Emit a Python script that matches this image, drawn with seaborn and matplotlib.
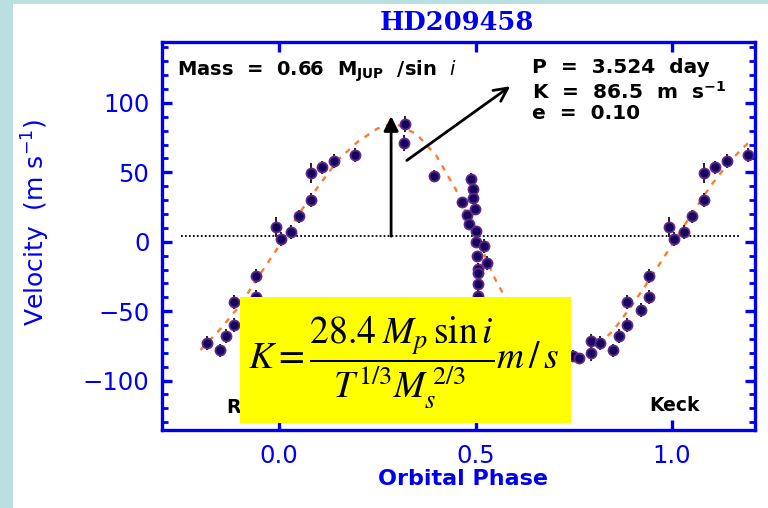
import numpy as np
import pandas as pd
import matplotlib
matplotlib.use("Agg")
import matplotlib.pyplot as plt
from matplotlib.patches import Rectangle
from matplotlib.ticker import MultipleLocator, FixedLocator
import seaborn as sns

# ---- radial-velocity measurements, folded on the orbital period ----
phase = [0.993, 0.006, 0.031, 0.051, 0.082, 0.080, 0.110, 0.140, 0.194,
         0.321, 0.318, 0.394,
         0.489, 0.493, 0.494, 0.499, 0.466, 0.479, 0.484, 0.500, 0.500,
         0.522, 0.503, 0.530, 0.505, 0.507, 0.507, 0.507,
         0.749, 0.762, 0.793, 0.793, 0.816, 0.849, 0.865, 0.885, 0.886,
         0.920, 0.941, 0.941]
velocity = [10.6, 1.9, 7.0, 18.2, 29.8, 49.5, 53.5, 57.9, 62.2,
            84.8, 71.1, 47.6,
            45.2, 38.0, 31.5, 23.6, 28.3, 19.0, 13.0, 7.7, -0.5,
            -2.9, -10.6, -15.3, -19.5, -22.8, -30.4, -39.0,
            -82.1, -83.8, -79.8, -71.8, -73.0, -78.3, -67.7, -59.8, -43.7,
            -49.0, -24.5, -40.0]
error = [7, 5, 5, 5, 5, 7, 5, 5, 5,
         6, 6, 4,
         4, 4, 4, 4, 4, 4, 4, 4, 4,
         5, 4, 5, 4, 4, 4, 4,
         4, 4, 6, 5, 5, 5, 5, 5, 5,
         5, 5, 5]

# ---- orbital fit (P = 3.524 d, K = 86.5 m/s, e = 0.10) ----
fit_phase = [-0.20, -0.15, -0.10, -0.05, 0.00, 0.05, 0.10, 0.15, 0.20, 0.25,
             0.28, 0.30, 0.35, 0.40, 0.45, 0.50, 0.55, 0.60, 0.65, 0.70,
             0.75, 0.80, 0.85, 0.90, 0.95, 1.00, 1.05, 1.10, 1.15, 1.20]
fit_velocity = [-78, -63, -46, -24, -3, 20, 40, 59, 72, 81.5,
                84.5, 84.5, 77.5, 62, 37.5, 5, -27, -53, -69, -79,
                -84, -77.5, -64, -45, -24, -2, 20, 41, 59, 73]

gamma = 4.0          # systemic velocity offset
K_amp = 86.5         # semi-amplitude, m/s
phase_range = (-0.2, 1.2)

xticks = [0.0, 0.5, 1.0]
xticklabels = ["0.0", "0.5", "1.0"]
yticks = [-100, -50, 0, 50, 100]

# repeat the folded points one cycle either side and keep the plotted window
base = pd.DataFrame({"phase": phase, "velocity": velocity, "error": error})
folded = pd.concat([base.assign(phase=base["phase"] + k) for k in (-1, 0, 1)],
                   ignore_index=True)
folded = folded[(folded["phase"] >= phase_range[0]) &
                (folded["phase"] <= phase_range[1])]
fit = pd.DataFrame({"phase": fit_phase, "velocity": fit_velocity})

BLUE = "#0000f0"
W, H = 768, 508
fig = plt.figure(figsize=(W / 100, H / 100), dpi=100, facecolor="white")

# slide background strips
fig.patches.append(Rectangle((0, 0), 13 / W, 1, transform=fig.transFigure,
                             facecolor="#badfe1", edgecolor="none", zorder=0))
fig.patches.append(Rectangle((0, 1 - 4 / H), 1, 4 / H, transform=fig.transFigure,
                             facecolor="#badfe1", edgecolor="none", zorder=0))

ax = fig.add_axes([162 / W, 1 - 430 / H, (755 - 162) / W, (430 - 42) / H])
ax.set_facecolor("white")

# zero-point line
ax.plot([-0.25, 1.17], [gamma, gamma], color="black", lw=1.3,
        linestyle=(0, (1, 1.2)), zorder=1)

# fitted curve
sns.lineplot(data=fit, x="phase", y="velocity", ax=ax, sort=False,
             color="#ff7b2e", lw=1.7, linestyle=(0, (2.4, 2.8)), zorder=2)

# measurements with error bars
ax.errorbar(folded["phase"], folded["velocity"], yerr=folded["error"],
            fmt="none", ecolor="#202020", elinewidth=1.4, capsize=0, zorder=3)
sns.scatterplot(data=folded, x="phase", y="velocity", ax=ax, s=52,
                color="#15005f", edgecolor="#5e2a86", linewidth=1.3, zorder=4)

# amplitude arrow and pointer to the orbital parameters
ax.annotate("", xy=(0.285, gamma + K_amp), xytext=(0.285, gamma),
            arrowprops=dict(arrowstyle="-|>", color="black", lw=2.0,
                            mutation_scale=22, shrinkA=0, shrinkB=0), zorder=5)
ax.annotate("", xy=(0.588, 112), xytext=(0.325, 58.6),
            arrowprops=dict(arrowstyle="->", color="black", lw=2.0,
                            mutation_scale=24, shrinkA=0, shrinkB=0), zorder=5)

ax.set_xlim(-0.298, 1.211)
ax.set_ylim(-135.6, 143.9)
ax.set_xlabel("")
ax.set_ylabel("")

for s in ax.spines.values():
    s.set_color(BLUE)
    s.set_linewidth(2.4)

ax.xaxis.set_major_locator(FixedLocator(xticks))
ax.set_xticklabels(xticklabels)
ax.yaxis.set_major_locator(FixedLocator(yticks))
ax.yaxis.set_minor_locator(MultipleLocator(10))
ax.tick_params(axis="both", which="major", direction="in", length=7.5,
               width=2.4, color=BLUE, labelcolor=BLUE, labelsize=17.5,
               top=True, right=True, pad=9)
ax.tick_params(axis="y", which="minor", direction="in", length=4.5,
               width=2.0, color=BLUE, left=True, right=True)
ax.tick_params(axis="x", which="minor", bottom=False, top=False)
ax.tick_params(axis="x", which="major", pad=10)

# annotations inside the panel
ax.text(0.025, 0.925, r"Mass  =  0.66  M$_{\mathbf{JUP}}$  /sin  $\mathit{i}$",
        transform=ax.transAxes, fontsize=14, fontweight="bold",
        ha="left", va="center", color="black")
ax.text(0.624, 0.933, "P  =  3.524  day", transform=ax.transAxes,
        fontsize=14.5, fontweight="bold", ha="left", va="center")
ax.text(0.624, 0.871, r"K  =  86.5  m  s$^{\mathbf{-1}}$", transform=ax.transAxes,
        fontsize=14.5, fontweight="bold", ha="left", va="center")
ax.text(0.624, 0.815, "e  =  0.10", transform=ax.transAxes,
        fontsize=14.5, fontweight="bold", ha="left", va="center")
ax.text(0.821, 0.064, "Keck", transform=ax.transAxes,
        fontsize=13.5, fontweight="bold", ha="left", va="center")
ax.text(0.108, 0.057, "R", transform=ax.transAxes,
        fontsize=13.5, fontweight="bold", ha="left", va="center")

# title and axis labels
fig.text(457 / W, 1 - 22 / H, "HD209458", color=BLUE, fontsize=18.5,
         family="DejaVu Serif", fontweight="bold", ha="center", va="center")
fig.text(36 / W, 1 - 222 / H, r"Velocity  (m s$^{-1}$)", color=BLUE,
         fontsize=18, rotation=90, ha="center", va="center")
fig.text(463 / W, 1 - 479 / H, "Orbital Phase", color=BLUE, fontsize=16,
         fontweight="bold", ha="center", va="center")

# formula box
fig.patches.append(Rectangle((240 / W, 1 - 423 / H), 331 / W, 126 / H,
                             transform=fig.transFigure, facecolor="#ffff00",
                             edgecolor="none", zorder=10))
fig.text(403 / W, 1 - 363 / H,
         r"$K = \dfrac{28.4\;M_p\,\sin i}{T^{1/3}M_s^{\,2/3}}m\,/\,s$",
         fontsize=27, math_fontfamily="stix", ha="center", va="center",
         color="black", zorder=11)

fig.savefig("out.png", dpi=100, facecolor=fig.get_facecolor())
